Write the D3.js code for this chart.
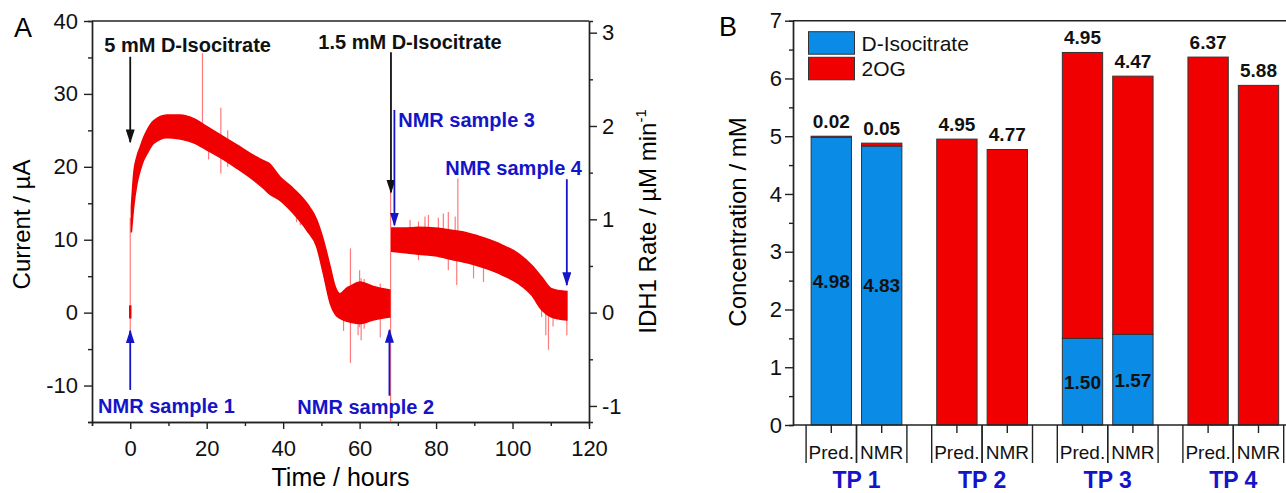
<!DOCTYPE html>
<html>
<head>
<meta charset="utf-8">
<script src="https://cdnjs.cloudflare.com/ajax/libs/d3/7.8.5/d3.min.js"></script>
<style>
  body { margin: 0; background: #fff; }
  svg { font-family: "Liberation Sans", Arial, sans-serif; }
  .axis path, .axis line { stroke: #222; stroke-width: 1.4; }
  .axis text { font-size: 22px; fill: #111; font-family: "Liberation Sans", Arial, sans-serif; }
  .frame { stroke: #222; stroke-width: 1.4; fill: none; }
</style>
</head>
<body>
<svg id="chart" width="1286" height="493"></svg>
<script>
// ---------- panel A: amperometric trace (band envelopes) ----------
var run1Time = [0.3, 0.9, 1.8, 2.6, 3.5, 4.4, 6.1, 9.6, 13.1, 16.6, 20.1, 23.5, 27.9, 32.2, 35.0, 36.2, 39.2, 42.7, 46.2, 48.8, 50.5, 52.3, 53.6, 54.9, 56.7, 57.5, 60.1, 63.6, 67.9];
var run1High = [14.5, 19.0, 21.5, 22.7, 24.0, 25.0, 26.3, 27.1, 27.1, 26.6, 25.5, 24.4, 23.0, 21.6, 20.8, 20.5, 18.6, 17.0, 15.0, 12.7, 10.0, 6.3, 3.6, 2.6, 3.4, 3.6, 4.2, 3.6, 3.1];
var run1Low  = [11.0, 14.5, 17.8, 19.5, 20.9, 21.8, 23.2, 24.0, 23.8, 23.3, 22.3, 21.3, 19.8, 18.2, 17.0, 16.4, 15.4, 13.6, 11.3, 9.0, 5.4, 1.3, -0.2, -0.8, -1.2, -1.3, -1.5, -1.0, -0.6];

var run2Time = [68.4, 71.9, 75.4, 79.7, 84.1, 88.4, 92.8, 97.2, 101.5, 105.0, 107.6, 110.2, 114.2];
var run2High = [11.6, 11.6, 11.7, 11.6, 11.3, 10.9, 10.2, 9.3, 8.1, 6.5, 4.9, 3.3, 2.9];
var run2Low  = [8.4, 8.2, 8.0, 7.8, 7.3, 6.8, 6.1, 5.2, 4.0, 2.4, 0.4, -0.6, -1.0];

// isolated spikes: [time, top, bottom]
var spikes = [
  [0.0, 13.0, -3.0], [18.9, 35.6, 26.0], [20.5, 25.3, 21.0], [23.7, 28.1, 19.1], [25.5, 25.0, 20.0],
  [43.5, 16.0, 12.4], [44.5, 15.5, 12.0], [55.8, 3.1, -2.5], [57.6, 8.8, -6.9], [59.6, 4.0, -3.1],
  [60.0, 5.8, -2.0], [60.4, 4.7, -3.8], [61.2, 4.6, -2.2], [65.4, 4.0, -3.4], [68.1, 16.8, -14.9],
  [73.2, 12.7, 10.0], [75.4, 12.5, 7.2], [77.1, 13.2, 10.0], [78.0, 13.4, 10.0], [80.6, 13.0, 10.0],
  [81.9, 13.6, 10.0], [83.2, 13.8, 5.8], [85.0, 13.2, 10.0], [85.7, 18.4, 9.0], [85.4, 11.0, 3.8],
  [89.8, 10.0, 4.7], [92.4, 9.5, 4.2], [107.6, 4.9, -0.6], [108.7, 4.0, -3.1], [109.4, 3.5, -5.1],
  [110.6, 3.3, -1.9], [114.2, 3.0, -3.1]
];
var rateFactor = 12.8; // µA per µM/min, from the two y axes

// annotations: [time, from current, to current] and [label, time, current]
var blackArrows = [[0.0, 35.1, 23.4], [68.2, 35.7, 16.5]];
var blueArrows = [[69.1, 27.8, 12.0], [114.2, 18.3, 3.8], [0.0, -10.6, -2.5], [67.8, -11.4, -2.4]];
var blackNotes = [["5 mM D-Isocitrate", -6.8, 35.7], ["1.5 mM D-Isocitrate", 49.2, 36.1]];
var blueNotes = [["NMR sample 3", 70.1, 25.5], ["NMR sample 4", 82.4, 18.9], ["NMR sample 1", -8.4, -13.7], ["NMR sample 2", 43.7, -13.9]];

// ---------- panel B: concentrations ----------
var tpGroups = ["TP 1", "TP 2", "TP 3", "TP 4"];
var methods = ["Pred.", "NMR"];
var isoVals = [4.98, 4.83, 0, 0, 1.50, 1.57, 0, 0];
var ogVals  = [0.02, 0.05, 4.95, 4.77, 4.95, 4.47, 6.37, 5.88];
var legendNames = ["D-Isocitrate", "2OG"];

var red = "#f00000", blue = "#0a8be6", navy = "#1414c8", light = "#ff7a7a";
var svg = d3.select("#chart");
var fmt = function(d) { return String(d); }; // plain hyphen minus, like the original

// ================= panel A =================
var aL = 92, aR = 589, aT = 21, aB = 422;
var xA = d3.scaleLinear().domain([-10, 120]).range([aL, aR]);
var yA = d3.scaleLinear().domain([-15, 40]).range([aB, aT]);
var yR = d3.scaleLinear().domain([-15 / rateFactor, 40 / rateFactor]).range([aB, aT]);

svg.append("clipPath").attr("id", "clipA").append("rect")
  .attr("x", aL).attr("y", aT).attr("width", aR - aL).attr("height", aB - aT);
var gA = svg.append("g").attr("clip-path", "url(#clipA)");

gA.selectAll("line.spike").data(spikes).enter().append("line")
  .attr("class", "spike")
  .attr("x1", function(d) { return xA(d[0]); }).attr("x2", function(d) { return xA(d[0]); })
  .attr("y1", function(d) { return yA(d[1]); }).attr("y2", function(d) { return yA(d[2]); })
  .attr("stroke", light).attr("stroke-width", 1.2);

function band(ts, hi, lo) {
  var area = d3.area()
    .x(function(d) { return xA(ts[d]); })
    .y0(function(d) { return yA(lo[d]); })
    .y1(function(d) { return yA(hi[d]); })
    .curve(d3.curveMonotoneX);
  gA.append("path").datum(d3.range(ts.length)).attr("d", area)
    .attr("fill", red).attr("stroke", red).attr("stroke-width", 1.5);
}
band(run1Time, run1High, run1Low);
band(run2Time, run2High, run2Low);
// little dark block at t = 0
gA.append("line").attr("x1", xA(0)).attr("x2", xA(0)).attr("y1", yA(1.0)).attr("y2", yA(-0.8))
  .attr("stroke", red).attr("stroke-width", 2.5);

// axes A
svg.append("g").attr("class", "axis").attr("transform", "translate(" + aL + ",0)")
  .call(d3.axisLeft(yA).tickValues([-15, -5, 5, 15, 25, 35]).tickSize(4).tickFormat(""));
svg.append("g").attr("class", "axis").attr("transform", "translate(" + aL + ",0)")
  .call(d3.axisLeft(yA).tickValues([-10, 0, 10, 20, 30, 40]).tickSize(8).tickPadding(6).tickSizeOuter(0).tickFormat(fmt));
svg.append("g").attr("class", "axis").attr("transform", "translate(0," + aB + ")")
  .call(d3.axisBottom(xA).tickValues([-10, 10, 30, 50, 70, 90, 110]).tickSize(4).tickFormat(""));
svg.append("g").attr("class", "axis").attr("transform", "translate(0," + aB + ")")
  .call(d3.axisBottom(xA).tickValues([0, 20, 40, 60, 80, 100, 120]).tickSize(7).tickPadding(11).tickSizeOuter(0).tickFormat(fmt));
svg.append("g").attr("class", "axis").attr("transform", "translate(" + aR + ",0)")
  .call(d3.axisRight(yR).tickValues([-0.5, 0.5, 1.5, 2.5]).tickSize(4).tickFormat(""));
svg.append("g").attr("class", "axis").attr("transform", "translate(" + aR + ",0)")
  .call(d3.axisRight(yR).tickValues([-1, 0, 1, 2, 3]).tickSize(8).tickPadding(5).tickSizeOuter(0).tickFormat(fmt));
svg.append("line").attr("class", "frame").attr("x1", aL).attr("x2", aR).attr("y1", aT).attr("y2", aT);

// arrows
var defs = svg.append("defs");
function marker(id, col) {
  defs.append("marker").attr("id", id).attr("viewBox", "0 0 10 10").attr("preserveAspectRatio", "none")
    .attr("refX", 9).attr("refY", 5).attr("markerWidth", 14).attr("markerHeight", 9)
    .attr("markerUnits", "userSpaceOnUse").attr("orient", "auto")
    .append("path").attr("d", "M0,0 L10,5 L0,10 Z").attr("fill", col);
}
marker("headK", "#111");
marker("headB", navy);
function arrows(list, col, id) {
  svg.selectAll(null).data(list).enter().append("line")
    .attr("x1", function(d) { return xA(d[0]); }).attr("x2", function(d) { return xA(d[0]); })
    .attr("y1", function(d) { return yA(d[1]); }).attr("y2", function(d) { return yA(d[2]); })
    .attr("stroke", col).attr("stroke-width", 1.8).attr("marker-end", "url(#" + id + ")");
}
arrows(blackArrows, "#111", "headK");
arrows(blueArrows, navy, "headB");
function notes(list, col) {
  svg.selectAll(null).data(list).enter().append("text")
    .attr("x", function(d) { return xA(d[1]); }).attr("y", function(d) { return yA(d[2]); })
    .attr("font-size", 20).attr("font-weight", "bold").attr("fill", col)
    .text(function(d) { return d[0]; });
}
notes(blackNotes, "#111");
notes(blueNotes, navy);

svg.append("text").attr("x", 14).attr("y", 37).attr("font-size", 27).text("A");
svg.append("text").attr("transform", "translate(30," + ((aT + aB) / 2 + 3) + ") rotate(-90)")
  .attr("text-anchor", "middle").attr("font-size", 24).text("Current / µA");
svg.append("text").attr("x", (aL + aR) / 2).attr("y", 486)
  .attr("text-anchor", "middle").attr("font-size", 25).text("Time / hours");
var rl = svg.append("text").attr("transform", "translate(656," + ((aT + aB) / 2) + ") rotate(-90)")
  .attr("text-anchor", "middle").attr("font-size", 24);
rl.append("tspan").text("IDH1 Rate / µM min");
rl.append("tspan").attr("font-size", 15).attr("dy", -10).text("-1");

// ================= panel B =================
var bL = 793, bR = 1286, bT = 20.7, bB = 425;
var yB = d3.scaleLinear().domain([0, 7]).range([bB, bT]);
var xG = d3.scalePoint().domain(tpGroups).range([856.5, 1233.3]);
var xM = d3.scaleBand().domain(methods).range([-50.4, 50.4]).paddingInner(0.2).paddingOuter(0.1);
var slot = xM.step();

var bars = [];
tpGroups.forEach(function(g, i) {
  methods.forEach(function(m, j) {
    var k = i * 2 + j;
    bars.push({ g: g, m: m, iso: isoVals[k], og: ogVals[k] });
  });
});
function bx(d) { return xG(d.g) + xM(d.m); }
function bc(d) { return bx(d) + xM.bandwidth() / 2; }

var gB = svg.append("g");
gB.selectAll("rect.iso").data(bars.filter(function(d) { return d.iso > 0; })).enter().append("rect")
  .attr("x", bx).attr("width", xM.bandwidth())
  .attr("y", function(d) { return yB(d.iso); }).attr("height", function(d) { return bB - yB(d.iso); })
  .attr("fill", blue).attr("stroke", "#333").attr("stroke-width", 1);
gB.selectAll("rect.og").data(bars).enter().append("rect")
  .attr("x", bx).attr("width", xM.bandwidth())
  .attr("y", function(d) { return yB(d.iso + d.og); }).attr("height", function(d) { return yB(d.iso) - yB(d.iso + d.og); })
  .attr("fill", red).attr("stroke", "#333").attr("stroke-width", 1);

gB.selectAll("text.top").data(bars).enter().append("text")
  .attr("x", bc).attr("y", function(d) { return yB(d.iso + d.og) - 8; })
  .attr("text-anchor", "middle").attr("font-size", 19).attr("font-weight", "bold").attr("fill", "#111")
  .text(function(d) { return d.og.toFixed(2); });
gB.selectAll("text.mid").data(bars.filter(function(d) { return d.iso > 0.5; })).enter().append("text")
  .attr("x", bc).attr("y", function(d) { return yB(d.iso / 2); }).attr("dy", "0.36em")
  .attr("text-anchor", "middle").attr("font-size", 19).attr("font-weight", "bold").attr("fill", "#111")
  .text(function(d) { return d.iso.toFixed(2); });

svg.append("g").attr("class", "axis").attr("transform", "translate(" + bL + ",0)")
  .call(d3.axisLeft(yB).tickValues(d3.range(0.5, 7, 1)).tickSize(4).tickFormat(""));
svg.append("g").attr("class", "axis").attr("transform", "translate(" + bL + ",0)")
  .call(d3.axisLeft(yB).ticks(7).tickSize(8).tickPadding(3).tickSizeOuter(0).tickFormat(fmt));
svg.append("line").attr("class", "frame").attr("x1", bL).attr("x2", bR).attr("y1", bT).attr("y2", bT);
svg.append("line").attr("class", "frame").attr("x1", bL).attr("x2", bR).attr("y1", bB).attr("y2", bB);

// category axis
var cat = svg.append("g");
cat.selectAll("line.tk").data(bars).enter().append("line")
  .attr("x1", bc).attr("x2", bc).attr("y1", bB).attr("y2", bB + 8)
  .attr("stroke", "#222").attr("stroke-width", 1.4);
var seps = [];
bars.forEach(function(d) { seps.push(bc(d) - slot / 2); seps.push(bc(d) + slot / 2); });
cat.selectAll("line.sep").data(seps).enter().append("line")
  .attr("x1", function(d) { return d; }).attr("x2", function(d) { return d; })
  .attr("y1", bB).attr("y2", bB + 38).attr("stroke", "#222").attr("stroke-width", 1.4);
cat.selectAll("text.m").data(bars).enter().append("text")
  .attr("x", bc).attr("y", bB + 27).attr("dy", "0.35em").attr("text-anchor", "middle")
  .attr("font-size", 19).attr("fill", "#111").text(function(d) { return d.m; });
cat.selectAll("text.g").data(tpGroups).enter().append("text")
  .attr("x", function(d) { return xG(d); }).attr("y", 488).attr("text-anchor", "middle")
  .attr("font-size", 23).attr("font-weight", "bold").attr("fill", navy).text(function(d) { return d; });

// legend
var lg = svg.append("g").attr("transform", "translate(808.5,31.7)");
lg.selectAll("rect").data(legendNames).enter().append("rect")
  .attr("x", 0).attr("y", function(d, i) { return i * 25.6; }).attr("width", 46).attr("height", 22.5)
  .attr("fill", function(d, i) { return i ? red : blue; }).attr("stroke", "#333").attr("stroke-width", 1);
lg.selectAll("text").data(legendNames).enter().append("text")
  .attr("x", 53).attr("y", function(d, i) { return i * 25.6 + 11.5; }).attr("dy", "0.36em")
  .attr("font-size", 21).attr("fill", "#111").text(function(d) { return d; });

svg.append("text").attr("x", 719).attr("y", 36).attr("font-size", 27).text("B");
svg.append("text").attr("transform", "translate(746,222) rotate(-90)")
  .attr("text-anchor", "middle").attr("font-size", 24).text("Concentration / mM");
</script>
</body>
</html>
